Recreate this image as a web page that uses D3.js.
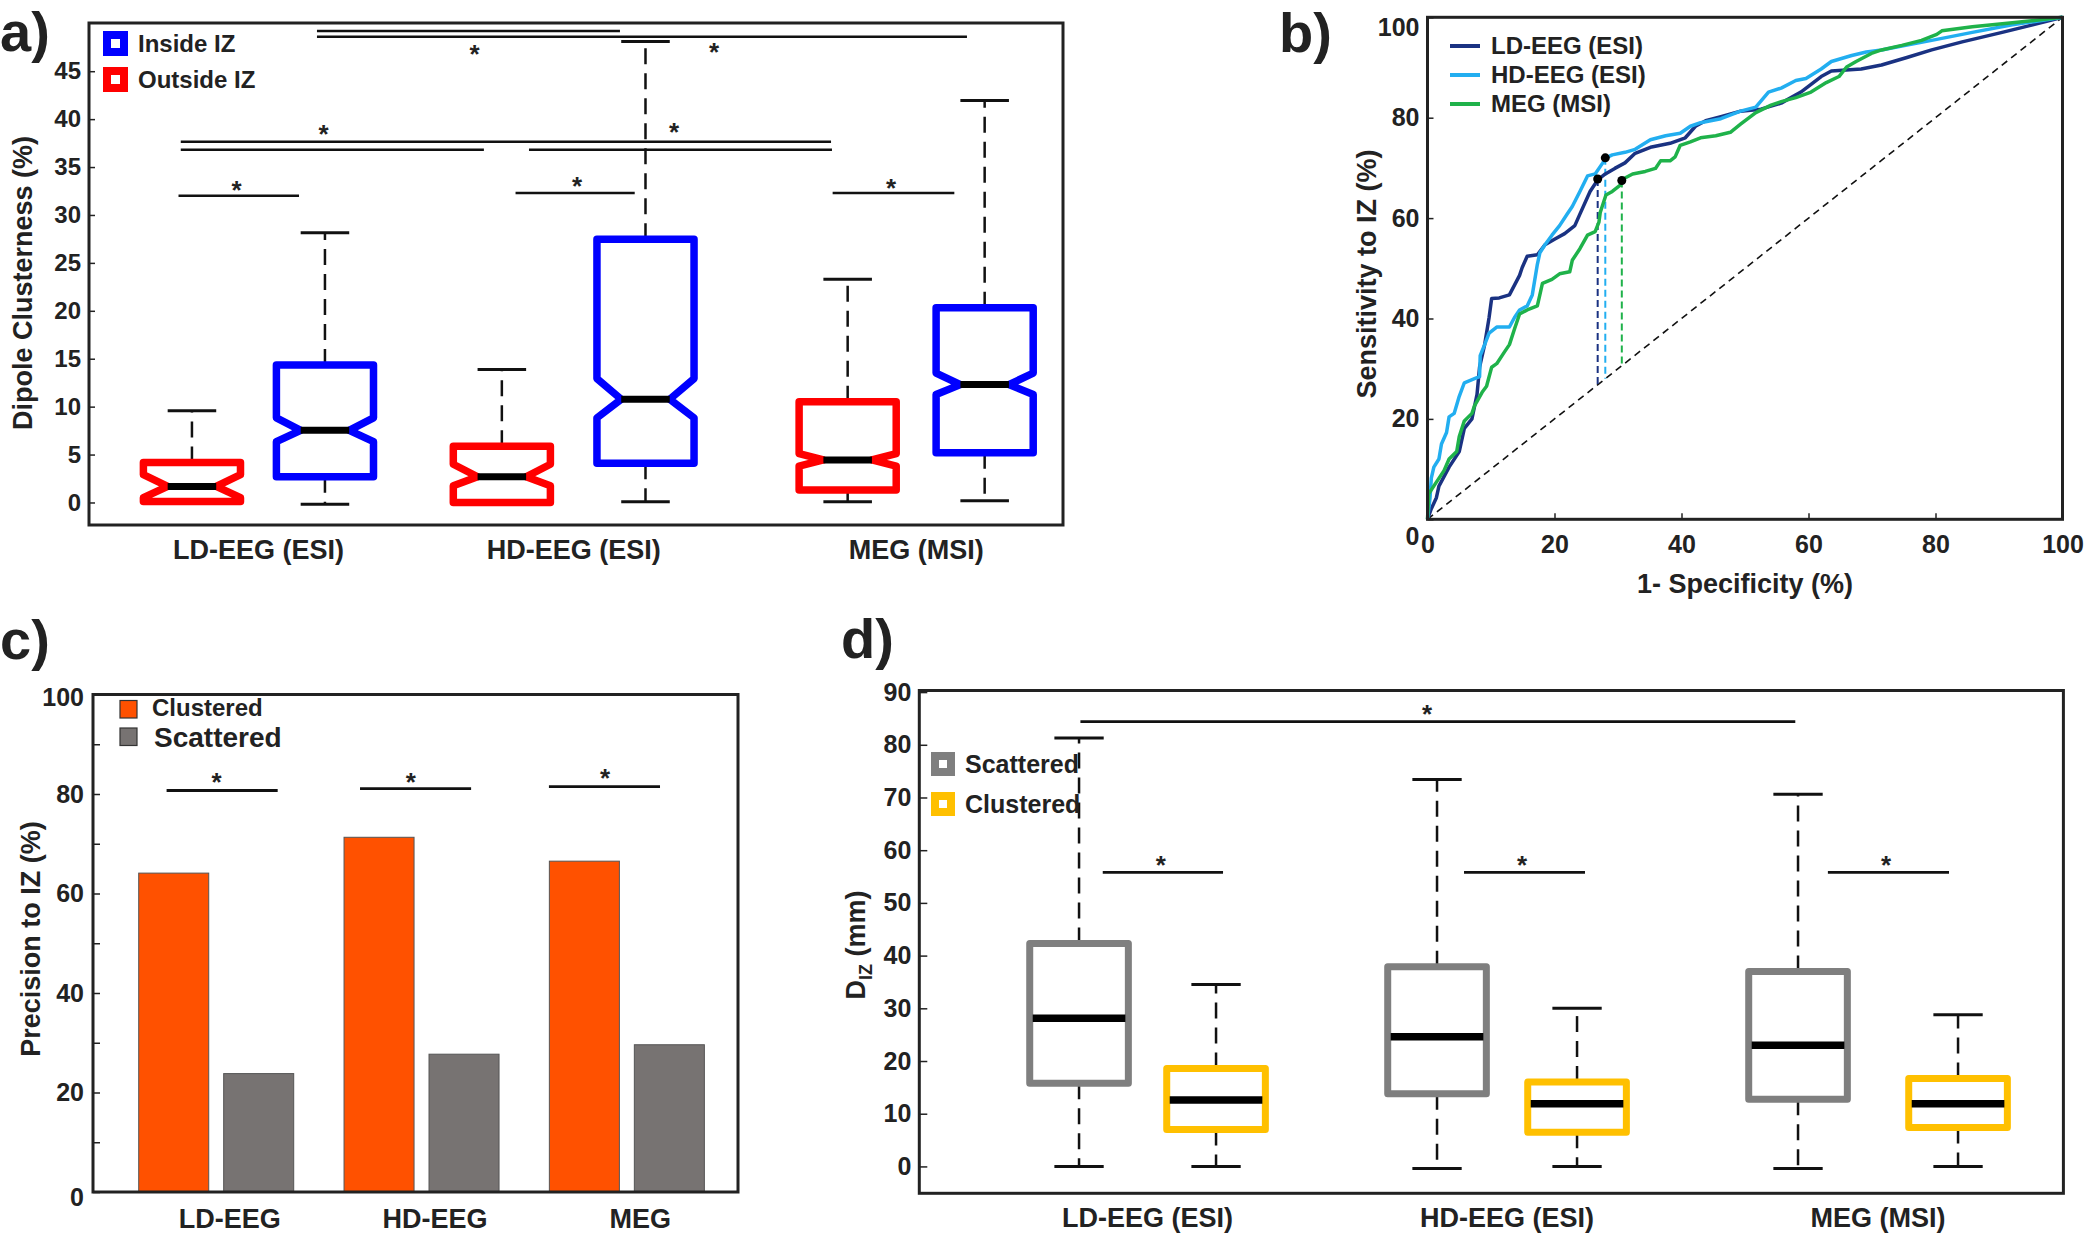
<!DOCTYPE html>
<html><head><meta charset="utf-8">
<script src="https://cdn.jsdelivr.net/npm/d3@7"></script>
<style>
body{margin:0;background:#fff}
text{font-family:"Liberation Sans",Arial,Helvetica,sans-serif;font-weight:bold;fill:#222}
</style>
</head><body>
<svg id="fig" width="2087" height="1235" xmlns="http://www.w3.org/2000/svg"></svg>
<script>
// ================= DATA =================
// Panel a: Dipole clusterness (%) - notched boxplots
const groupsA = ["LD-EEG (ESI)", "HD-EEG (ESI)", "MEG (MSI)"];
const outsideMin   = [0.0, 0.0, 0.07];
const outsideQ1    = [0.1, 0.0, 1.3];
const outsideNLo   = [0.5, 1.75, 3.8];
const outsideMed   = [1.68, 2.68, 4.44];
const outsideNHi   = [2.9, 3.99, 5.1];
const outsideQ3    = [4.18, 5.86, 10.51];
const outsideMax   = [9.58, 13.87, 23.3];
const insideMin    = [-0.19, 0.07, 0.19];
const insideQ1     = [2.68, 4.09, 5.18];
const insideNLo    = [6.34, 8.83, 11.26];
const insideMed    = [7.53, 10.77, 12.3];
const insideNHi    = [8.83, 12.93, 13.5];
const insideQ3     = [14.35, 27.47, 20.31];
const insideMax    = [28.15, 48.09, 41.94];
const ticksA = [0, 5, 10, 15, 20, 25, 30, 35, 40, 45];

// Panel b: ROC curves [1-specificity, sensitivity] (%)
const rocLD = [[0,0],[0.6,2.1],[1.4,4.3],[1.8,6.6],[3.4,10.4],[5.0,13.5],[5.8,18.1],[7.0,20.0],[7.8,24.9],[8.2,30.3],[9.0,34.8],[9.7,40.2],[10.1,44.0],[11.3,44.1],[12.9,44.7],[14.5,48.6],[14.9,50.1],[15.7,52.4],[17.3,52.7],[18.5,54.7],[20.0,55.8],[21.6,56.9],[23.2,58.5],[24.0,60.8],[25.6,65.3],[26.8,67.6],[28.0,68.8],[29.5,69.9],[31.1,71.0],[32.7,72.9],[35.1,74.1],[38.2,74.9],[40.6,76.0],[42.2,78.3],[43.8,79.4],[46.2,80.2],[49.3,81.3],[52.5,81.7],[55.7,82.9],[58.8,85.1],[62.0,88.2],[63.6,89.3],[68.3,89.7],[71.5,90.5],[75.5,92.0],[79.4,93.5],[84.2,95.1],[90.5,97.0],[95.3,98.5],[100,100]];
const rocHD = [[0,0],[0.4,4.3],[0.6,8.2],[1.0,10.4],[1.8,12.0],[2.2,15.0],[3.0,17.3],[3.4,20.4],[4.2,21.1],[5.0,24.5],[5.8,27.2],[7.4,28.0],[8.2,28.4],[8.3,32.6],[9.0,34.8],[9.7,37.1],[10.9,38.3],[12.9,38.3],[13.7,40.2],[14.5,41.7],[15.7,42.5],[16.5,44.7],[17.3,50.8],[17.7,53.1],[18.5,54.7],[19.6,56.6],[20.8,58.5],[22.0,60.8],[22.8,62.3],[24.0,65.3],[25.2,68.4],[26.4,68.8],[27.6,71.0],[28.1,72.0],[29.1,72.6],[31.1,73.1],[32.7,73.7],[35.1,75.6],[37.5,76.4],[39.8,76.9],[41.4,78.3],[43.0,79.0],[46.2,79.8],[49.3,81.3],[51.7,82.1],[53.7,85.1],[55.7,85.9],[58.0,87.4],[59.6,87.8],[62.0,89.7],[63.6,91.2],[66.8,92.4],[69.1,93.1],[71.5,93.5],[74.7,94.3],[79.4,95.4],[85.8,97.0],[92.1,98.5],[100,100]];
const rocMEG = [[0,0],[0.2,5.1],[1.4,7.4],[2.6,9.7],[3.4,12.0],[4.6,13.5],[5.0,16.5],[5.8,19.6],[7.0,21.1],[7.4,22.6],[8.6,25.3],[9.3,26.5],[10.1,30.3],[10.9,31.0],[12.1,33.3],[12.9,34.8],[13.7,37.9],[14.5,40.9],[15.7,41.7],[17.3,42.5],[18.1,47.0],[19.6,47.8],[20.8,48.9],[22.4,49.3],[22.8,51.6],[24.0,53.9],[25.2,56.6],[26.4,57.3],[27.0,59.2],[27.2,61.1],[28.1,64.6],[29.1,65.3],[30.3,66.5],[31.1,68.0],[32.3,68.8],[34.3,69.3],[35.9,69.9],[36.7,71.4],[38.2,71.4],[39.0,72.2],[39.8,74.5],[41.4,75.2],[43.0,76.0],[45.4,76.4],[47.7,77.1],[49.3,78.7],[51.7,81.0],[54.1,82.5],[55.7,83.2],[58.0,84.0],[60.4,85.1],[62.8,87.0],[64.8,88.2],[66.0,90.1],[67.5,91.2],[69.9,92.8],[71.5,93.5],[74.7,94.4],[77.8,95.4],[80.2,96.6],[81.0,97.3],[85.8,98.1],[92.1,98.9],[100,100]];
const rocNames = ["LD-EEG (ESI)", "HD-EEG (ESI)", "MEG (MSI)"];
const optimalX = [26.8, 28.0, 30.6];
const optimalY = [67.8, 72.0, 67.5];
const ticksB = [0, 20, 40, 60, 80, 100];

// Panel c: Precision to IZ (%)
const groupsC = ["LD-EEG", "HD-EEG", "MEG"];
const seriesC = ["Clustered", "Scattered"];
const clusteredPrec = [64.1, 71.3, 66.5];
const scatteredPrec = [23.8, 27.7, 29.6];
const ticksC = [0, 10, 20, 30, 40, 50, 60, 70, 80, 90, 100];

// Panel d: D_IZ (mm) boxplots
const groupsD = ["LD-EEG (ESI)", "HD-EEG (ESI)", "MEG (MSI)"];
const scatMin = [0, -0.4, -0.4];
const scatQ1  = [15.8, 13.8, 12.75];
const scatMed = [28.1, 24.6, 23.0];
const scatQ3  = [42.3, 37.9, 37.0];
const scatMax = [81.3, 73.4, 70.6];
const clusMin = [0, 0, 0];
const clusQ1  = [7.0, 6.5, 7.4];
const clusMed = [12.6, 11.9, 11.9];
const clusQ3  = [18.6, 16.0, 16.7];
const clusMax = [34.5, 30.0, 28.8];
const ticksD = [0, 10, 20, 30, 40, 50, 60, 70, 80, 90];

// ================= LAYOUT =================
const boxPosA = {out: [1, 3.33, 5.93], ins: [2, 4.41, 6.96]};
const boxPosD = {scat: [1, 3.613, 6.248], clus: [2, 4.635, 7.416]};
const sigA = [[0.899,1.805,32.0],[3.433,4.329,32.3],[5.817,6.732,32.3],[0.916,5.805,37.65],[0.916,3.195,36.8],[3.534,5.812,36.8],[1.94,4.218,49.2],[1.94,6.827,48.6]];
const starsA = [[1.335,33.25],[3.895,33.62],[6.256,33.46],[1.99,39.03],[4.624,39.22],[3.125,47.42],[4.925,47.61]];
const sigC = [[0.761,1.302,80.7],[1.703,2.244,81.1],[2.623,3.164,81.5]];
const starsC = [[1.004,83.5],[1.95,83.5],[2.896,84.3]];
const sigD = [[1.010,6.228,84.4],[1.173,2.051,55.8],[3.810,4.693,55.8],[6.466,7.350,55.8]];
const starsD = [[3.540,86.9],[1.596,58.3],[4.234,58.3],[6.891,58.3]];

const INK = "#222";
const svg = d3.select("#fig");
svg.append("rect").attr("width",2087).attr("height",1235).attr("fill","#fff");

function frame(g, x0, x1, y0, y1) {
  g.append("rect").attr("x", x0).attr("y", y0).attr("width", x1 - x0).attr("height", y1 - y0)
    .attr("fill", "none").attr("stroke", INK).attr("stroke-width", 3);
}
function leftAxis(g, scale, x0, ticks, fmt, tick, pad, fs) {
  const ax = g.append("g").attr("transform", `translate(${x0},0)`)
    .call(d3.axisLeft(scale).tickValues(ticks).tickFormat(fmt).tickSize(-tick).tickPadding(pad));
  ax.select(".domain").remove();
  ax.selectAll("line").attr("stroke", INK).attr("stroke-width", 1.5);
  ax.selectAll("text").attr("font-size", fs).attr("fill", INK)
    .style("font-family", "'Liberation Sans',Arial,sans-serif").style("font-weight", "bold");
  return ax;
}
function star(g, x, yc, fs) {
  g.append("text").attr("x", x).attr("y", yc + 0.57 * fs).attr("text-anchor", "middle")
    .attr("font-size", fs).text("*");
}
function hline(g, x0, x1, y, w) {
  g.append("line").attr("x1", x0).attr("x2", x1).attr("y1", y).attr("y2", y)
    .attr("stroke", "#111").attr("stroke-width", w || 2.5);
}
function panelLabel(txt, x, y) {
  svg.append("text").attr("x", x).attr("y", y).attr("font-size", 56).attr("fill", "#111").text(txt);
}
function yTitle(g, txt, x, y, fs) {
  return g.append("text").attr("transform", `translate(${x},${y}) rotate(-90)`)
    .attr("text-anchor", "middle").attr("dy", "0.35em").attr("font-size", fs).text(txt);
}
function whiskers(g, cx, w, yS, mn, q1, q3, mx) {
  g.append("line").attr("x1", cx).attr("x2", cx).attr("y1", yS(q3)).attr("y2", yS(mx))
    .attr("stroke", "#111").attr("stroke-width", 2.5).attr("stroke-dasharray", "16,9");
  g.append("line").attr("x1", cx).attr("x2", cx).attr("y1", yS(q1)).attr("y2", yS(mn))
    .attr("stroke", "#111").attr("stroke-width", 2.5).attr("stroke-dasharray", "16,9");
  [mn, mx].forEach(v => g.append("line").attr("x1", cx - w / 4).attr("x2", cx + w / 4)
    .attr("y1", yS(v)).attr("y2", yS(v)).attr("stroke", "#111").attr("stroke-width", 3));
}
function squareLegend(g, x, y, size, sw, color, label, fs) {
  g.append("rect").attr("x", x + sw / 2).attr("y", y + sw / 2).attr("width", size - sw).attr("height", size - sw)
    .attr("fill", "#fff").attr("stroke", color).attr("stroke-width", sw);
  g.append("text").attr("x", x + size + 10).attr("y", y + size / 2).attr("dy", "0.35em")
    .attr("font-size", fs).text(label);
}

// ================= PANEL A =================
(function(){
  const g = svg.append("g");
  const xA = d3.scaleLinear().domain([0.226, 7.549]).range([89, 1063]);
  const yA = d3.scaleLinear().domain([-2.35, 50.03]).range([525, 23]);
  const bw = xA(0.73) - xA(0);
  frame(g, 89, 1063, 23, 525);
  leftAxis(g, yA, 89, ticksA, d3.format("d"), 6, 8, 24);
  yTitle(g, "Dipole Clusterness (%)", 23, 283, 27);
  groupsA.forEach((name, i) => {
    const cx = xA((boxPosA.out[i] + boxPosA.ins[i]) / 2);
    g.append("text").attr("x", cx).attr("y", 559).attr("text-anchor", "middle").attr("font-size", 27).text(name);
  });
  const sets = [
    {pos: boxPosA.out, color: "#ff0000", mn: outsideMin, q1: outsideQ1, nlo: outsideNLo, med: outsideMed, nhi: outsideNHi, q3: outsideQ3, mx: outsideMax},
    {pos: boxPosA.ins, color: "#0000ff", mn: insideMin, q1: insideQ1, nlo: insideNLo, med: insideMed, nhi: insideNHi, q3: insideQ3, mx: insideMax}
  ];
  sets.forEach(s => {
    s.pos.forEach((p, i) => {
      const cx = xA(p), L = cx - bw / 2, R = cx + bw / 2, iL = cx - bw / 4, iR = cx + bw / 4;
      whiskers(g, cx, bw, yA, s.mn[i], s.q1[i], s.q3[i], s.mx[i]);
      const pts = [[L, yA(s.q1[i])], [L, yA(s.nlo[i])], [iL, yA(s.med[i])], [L, yA(s.nhi[i])], [L, yA(s.q3[i])],
                   [R, yA(s.q3[i])], [R, yA(s.nhi[i])], [iR, yA(s.med[i])], [R, yA(s.nlo[i])], [R, yA(s.q1[i])]];
      g.append("path").attr("d", d3.line()(pts) + "Z").attr("fill", "none").attr("stroke", s.color)
        .attr("stroke-width", 7.5).attr("stroke-linejoin", "round");
      g.append("line").attr("x1", iL).attr("x2", iR).attr("y1", yA(s.med[i])).attr("y2", yA(s.med[i]))
        .attr("stroke", "#000").attr("stroke-width", 7);
    });
  });
  sigA.forEach(d => hline(g, xA(d[0]), xA(d[1]), yA(d[2]), 2.5));
  starsA.forEach(d => star(g, xA(d[0]), yA(d[1]), 26));
  squareLegend(g, 103, 31, 25, 8, "#0000ff", "Inside IZ", 24);
  squareLegend(g, 103, 67, 25, 8, "#ff0000", "Outside IZ", 24);
})();

// ================= PANEL B =================
(function(){
  const g = svg.append("g");
  const xB = d3.scaleLinear().domain([0, 100]).range([1427.5, 2062.5]);
  const yB = d3.scaleLinear().domain([0, 100]).range([519.3, 17.3]);
  const colors = ["#1a3282", "#22aef0", "#1fb24a"];
  const rocs = [rocLD, rocHD, rocMEG];
  g.append("line").attr("x1", xB(0)).attr("y1", yB(0)).attr("x2", xB(100)).attr("y2", yB(100))
    .attr("stroke", "#111").attr("stroke-width", 1.6).attr("stroke-dasharray", "7,5");
  optimalX.forEach((ox, i) => {
    g.append("line").attr("x1", xB(ox)).attr("x2", xB(ox)).attr("y1", yB(optimalY[i])).attr("y2", yB(ox))
      .attr("stroke", colors[i]).attr("stroke-width", 2).attr("stroke-dasharray", "7,4");
  });
  const line = d3.line().x(d => xB(d[0])).y(d => yB(d[1]));
  rocs.forEach((r, i) => {
    g.append("path").attr("d", line(r)).attr("fill", "none").attr("stroke", colors[i])
      .attr("stroke-width", 3.5).attr("stroke-linejoin", "round");
  });
  optimalX.forEach((ox, i) => g.append("circle").attr("cx", xB(ox)).attr("cy", yB(optimalY[i])).attr("r", 4.5).attr("fill", "#000"));
  frame(g, 1427.5, 2062.5, 17.3, 519.3);
  const ay = leftAxis(g, yB, 1427.5, ticksB, d3.format("d"), 6, 8, 25);
  ay.selectAll(".tick text").attr("dy", d => d === 0 ? "1.0em" : d === 100 ? "0.72em" : "0.32em");
  const ax = g.append("g").attr("transform", "translate(0,519.3)")
    .call(d3.axisBottom(xB).tickValues(ticksB).tickFormat(d3.format("d")).tickSize(-6).tickPadding(16));
  ax.select(".domain").remove();
  ax.selectAll("line").attr("stroke", INK).attr("stroke-width", 1.5);
  ax.selectAll("text").attr("font-size", 25).attr("fill", INK)
    .style("font-family", "'Liberation Sans',Arial,sans-serif").style("font-weight", "bold");
  yTitle(g, "Sensitivity to IZ (%)", 1367, 274, 27);
  g.append("text").attr("x", 1745).attr("y", 593).attr("text-anchor", "middle").attr("font-size", 27).text("1- Specificity (%)");
  rocNames.forEach((n, i) => {
    const yy = 46 + i * 29;
    g.append("line").attr("x1", 1450).attr("x2", 1480).attr("y1", yy).attr("y2", yy).attr("stroke", colors[i]).attr("stroke-width", 4);
    g.append("text").attr("x", 1491).attr("y", yy).attr("dy", "0.35em").attr("font-size", 24).text(n);
  });
})();

// ================= PANEL C =================
(function(){
  const g = svg.append("g");
  const yC = d3.scaleLinear().domain([0, 100]).range([1192, 694.5]);
  const xC = d3.scaleBand().domain(groupsC).range([113, 729]);
  const xIn = d3.scaleBand().domain(seriesC).range([25.7, 180.7]).paddingInner(0.176);
  const xL = d3.scaleLinear().domain([0.5, 3.5]).range([113, 729]);
  const colors = {Clustered: "#ff5100", Scattered: "#777372"};
  const vals = {Clustered: clusteredPrec, Scattered: scatteredPrec};
  groupsC.forEach((gname, i) => {
    seriesC.forEach(s => {
      g.append("rect").attr("x", xC(gname) + xIn(s)).attr("width", xIn.bandwidth())
        .attr("y", yC(vals[s][i])).attr("height", yC(0) - yC(vals[s][i]))
        .attr("fill", colors[s]).attr("stroke", "#555").attr("stroke-width", 1);
    });
    g.append("text").attr("x", xC(gname) + xC.bandwidth() / 2 + 14).attr("y", 1228).attr("text-anchor", "middle")
      .attr("font-size", 27).text(gname);
  });
  frame(g, 93, 738, 694.5, 1192);
  const ay = leftAxis(g, yC, 93, ticksC, d => d % 20 === 0 ? d : "", 7, 9, 25);
  ay.selectAll(".tick text").attr("dy", d => d === 0 ? "0.55em" : d === 100 ? "0.45em" : "0.32em");
  yTitle(g, "Precision to IZ (%)", 31, 939, 27);
  sigC.forEach(d => hline(g, xL(d[0]), xL(d[1]), yC(d[2]), 2.8));
  starsC.forEach(d => star(g, xL(d[0]), yC(d[1]), 26));
  g.append("rect").attr("x", 120).attr("y", 700.5).attr("width", 17).attr("height", 17.5).attr("fill", colors.Clustered).attr("stroke", "#333").attr("stroke-width", 1.2);
  g.append("text").attr("x", 152).attr("y", 708).attr("dy", "0.35em").attr("font-size", 24).text(seriesC[0]);
  g.append("rect").attr("x", 120).attr("y", 728).attr("width", 17).attr("height", 17.5).attr("fill", colors.Scattered).attr("stroke", "#333").attr("stroke-width", 1.2);
  g.append("text").attr("x", 154).attr("y", 737).attr("dy", "0.35em").attr("font-size", 28).text(seriesC[1]);
})();

// ================= PANEL D =================
(function(){
  const g = svg.append("g");
  const xD = d3.scaleLinear().domain([-0.166, 8.185]).range([919.3, 2063.4]);
  const yD = d3.scaleLinear().domain([-5.1, 90.3]).range([1193.3, 690.5]);
  const bw = xD(0.72) - xD(0);
  frame(g, 919.3, 2063.4, 690.5, 1193.3);
  leftAxis(g, yD, 919.3, ticksD, d3.format("d"), 8, 8, 25);
  const t = g.append("text").attr("transform", "translate(856,945) rotate(-90)").attr("text-anchor", "middle")
    .attr("dy", "0.35em").attr("font-size", 27);
  t.append("tspan").text("D");
  t.append("tspan").attr("dy", 7).attr("font-size", 18).text("IZ");
  t.append("tspan").attr("dy", -7).text(" (mm)");
  groupsD.forEach((name, i) => {
    const cx = xD((boxPosD.scat[i] + boxPosD.clus[i]) / 2);
    g.append("text").attr("x", cx).attr("y", 1227).attr("text-anchor", "middle").attr("font-size", 27).text(name);
  });
  const sets = [
    {pos: boxPosD.scat, color: "#7f7f7f", mn: scatMin, q1: scatQ1, med: scatMed, q3: scatQ3, mx: scatMax},
    {pos: boxPosD.clus, color: "#ffc000", mn: clusMin, q1: clusQ1, med: clusMed, q3: clusQ3, mx: clusMax}
  ];
  sets.forEach(s => {
    s.pos.forEach((p, i) => {
      const cx = xD(p);
      whiskers(g, cx, bw, yD, s.mn[i], s.q1[i], s.q3[i], s.mx[i]);
      g.append("rect").attr("x", cx - bw / 2).attr("width", bw).attr("y", yD(s.q3[i])).attr("height", yD(s.q1[i]) - yD(s.q3[i]))
        .attr("fill", "none").attr("stroke", s.color).attr("stroke-width", 7).attr("stroke-linejoin", "round");
      g.append("line").attr("x1", cx - bw / 2 + 3).attr("x2", cx + bw / 2 - 3).attr("y1", yD(s.med[i])).attr("y2", yD(s.med[i]))
        .attr("stroke", "#000").attr("stroke-width", 7.5);
    });
  });
  sigD.forEach(d => hline(g, xD(d[0]), xD(d[1]), yD(d[2]), 2.8));
  starsD.forEach(d => star(g, xD(d[0]), yD(d[1]), 26));
  squareLegend(g, 931, 752, 24, 8, "#7f7f7f", "Scattered", 25);
  squareLegend(g, 931, 792, 24, 8, "#ffc000", "Clustered", 25);
})();

// ================= PANEL LABELS =================
panelLabel("a)", 0, 51);
panelLabel("b)", 1279, 52);
panelLabel("c)", 0, 659);
panelLabel("d)", 841, 658);
</script>
</body></html>
